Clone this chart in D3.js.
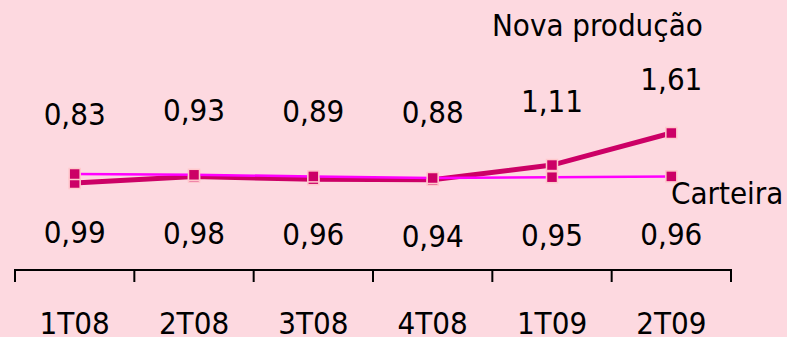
<!DOCTYPE html>
<html><head><meta charset="utf-8">
<script src="https://cdn.jsdelivr.net/npm/d3@7"></script>
<style>
html,body{margin:0;padding:0;background:#FDD9E0;}
svg{display:block;}
text{font-family:"DejaVu Sans Condensed","DejaVu Sans",sans-serif;font-stretch:condensed;fill:#000;}
</style></head>
<body>
<svg id="chart" width="787" height="337"></svg>
<script>
const categories = ["1T08","2T08","3T08","4T08","1T09","2T09"];
const novaProducao = [0.83,0.93,0.89,0.88,1.11,1.61];
const carteira = [0.99,0.98,0.96,0.94,0.95,0.96];
const seriesNames = ["Nova produção","Carteira"];

const FS = "31px";
const fmt = v => d3.format(".2f")(v).replace(".", ",");
const svg = d3.select("#chart");
svg.append("rect").attr("width",787).attr("height",337).attr("fill","#FDD9E0");

const x = d3.scaleBand().domain(categories).range([15,731]).padding(0);
const cx = d => x(d) + x.bandwidth()/2;
const yN = d3.scaleLinear().domain([0.83,1.61]).range([183,133]);
const yC = d3.scaleLinear().domain([0.94,0.99]).range([178,174]);
const yNLab = d3.scaleLinear().domain([0.83,1.61]).range([125,90]);
const yCLab = d3.scaleLinear().domain([0.94,0.99]).range([247,243]);

// axis
const axisY = 270;
const ax = svg.append("g").attr("transform",`translate(0,${axisY})`)
  .call(d3.axisBottom(x).tickSize(0).tickPadding(48));
ax.select(".domain").remove();
ax.selectAll("text").style("font-size",FS).style("font-family",'"DejaVu Sans Condensed","DejaVu Sans",sans-serif').attr("fill","#000").attr("dy",0).attr("y",63.5);
svg.append("line").attr("x1",x.range()[0]).attr("x2",x.range()[1]).attr("y1",axisY).attr("y2",axisY)
  .attr("stroke","#000").attr("stroke-width",2);
const edges = categories.map(c=>x(c)).concat([x.range()[1]]);
svg.selectAll(".tk").data(edges).join("line")
  .attr("x1",d=>d).attr("x2",d=>d).attr("y1",axisY-1).attr("y2",axisY+12)
  .attr("stroke","#000").attr("stroke-width",2);

const dataN = categories.map((c,i)=>({c,v:novaProducao[i]}));
const dataC = categories.map((c,i)=>({c,v:carteira[i]}));

// Nova produção line
svg.append("path").datum(dataN)
  .attr("d", d3.line().x(d=>cx(d.c)).y(d=>yN(d.v)))
  .attr("fill","none").attr("stroke","#CC0066").attr("stroke-width",5);
svg.selectAll(".mN").data(dataN).join("rect")
  .attr("x",d=>cx(d.c)-5.5).attr("y",d=>yN(d.v)-5.5).attr("width",11).attr("height",11)
  .attr("fill","#CC0066").attr("stroke","#FFC8CC").attr("stroke-width",1.5);

// Carteira line
svg.append("path").datum(dataC)
  .attr("d", d3.line().x(d=>cx(d.c)).y(d=>yC(d.v)))
  .attr("fill","none").attr("stroke","#FF00FF").attr("stroke-width",2.5);
svg.selectAll(".mC").data(dataC).join("rect")
  .attr("x",d=>cx(d.c)-5.5).attr("y",d=>yC(d.v)-5.5).attr("width",11).attr("height",11)
  .attr("fill","#CC0066").attr("stroke","#FFC8CC").attr("stroke-width",1.5);

// value labels
svg.selectAll(".lN").data(dataN).join("text")
  .attr("x",d=>cx(d.c)).attr("y",d=>yNLab(d.v)).attr("text-anchor","middle")
  .style("font-size",FS).text(d=>fmt(d.v));
svg.selectAll(".lC").data(dataC).join("text")
  .attr("x",d=>cx(d.c)).attr("y",d=>yCLab(d.v)).attr("text-anchor","middle")
  .style("font-size",FS).text(d=>fmt(d.v));

// series names
svg.append("text").attr("x",492).attr("y",36).style("font-size",FS).text(seriesNames[0]);
svg.append("text").attr("x",671).attr("y",204).style("font-size",FS).text(seriesNames[1]);
</script>
</body></html>
